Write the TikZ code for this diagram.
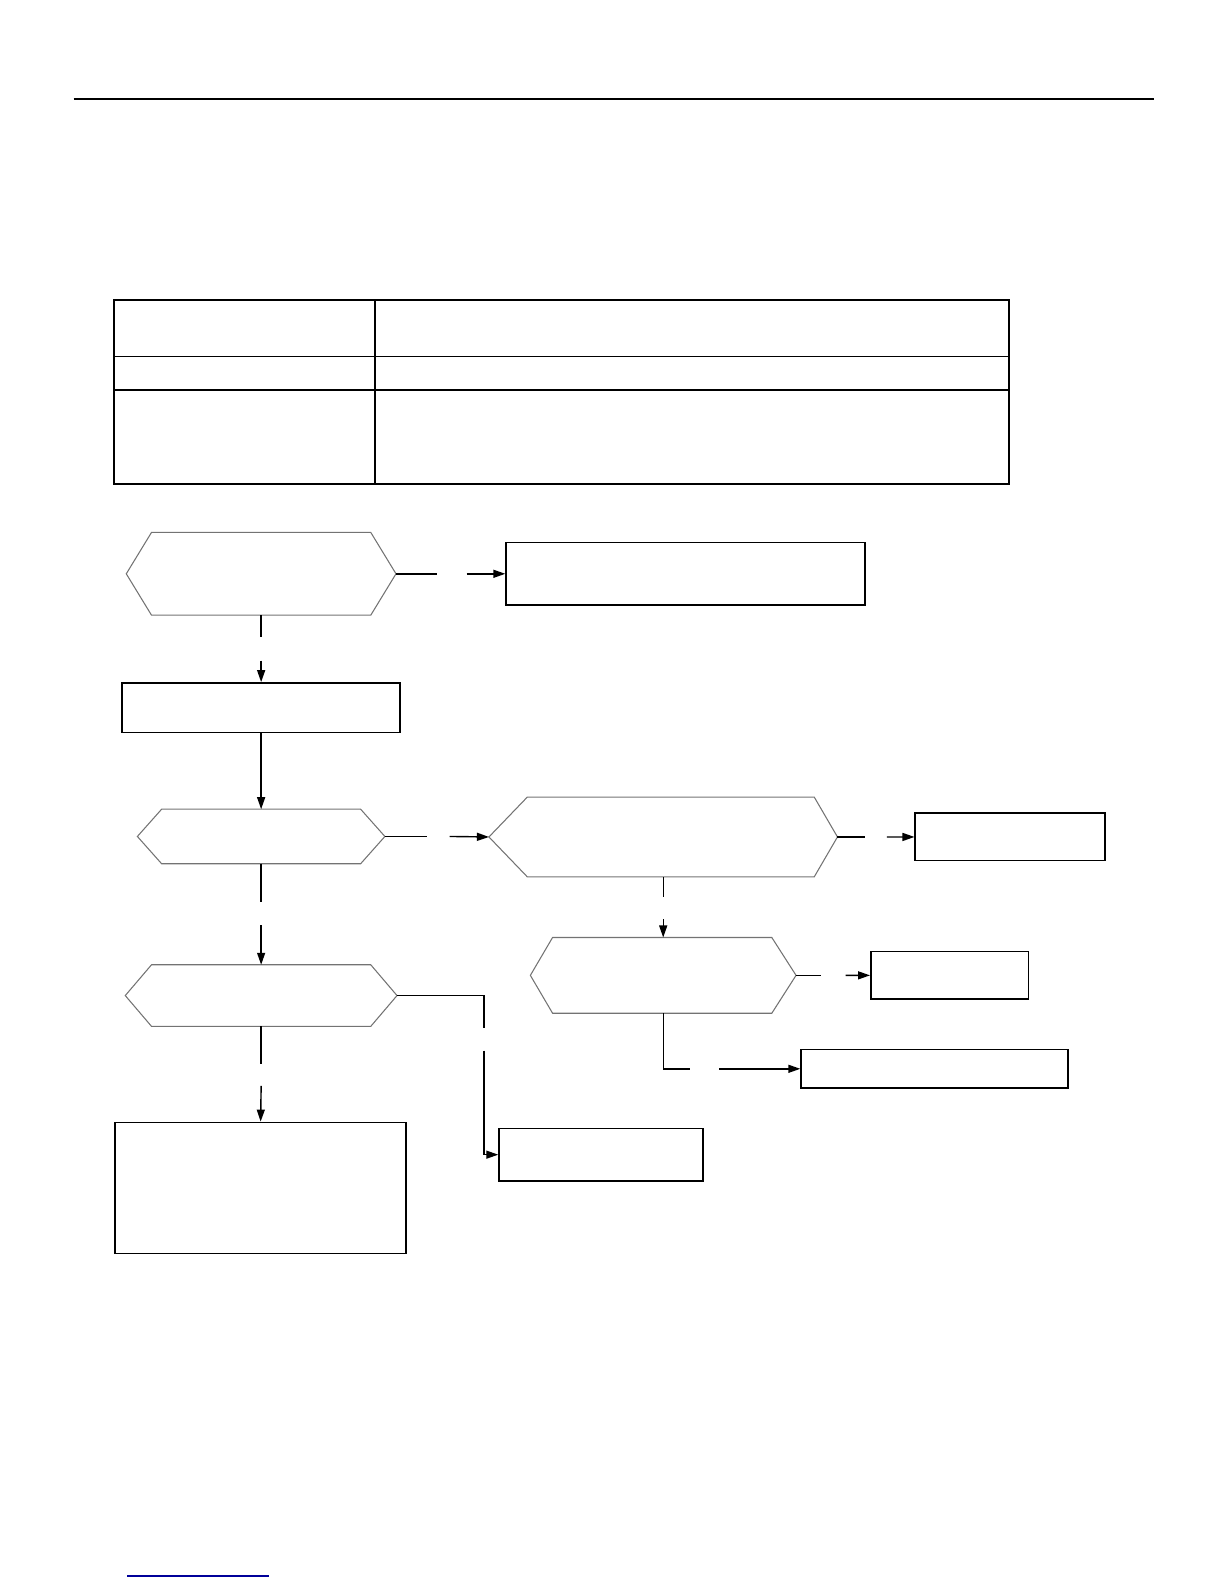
\documentclass[tikz,border=0pt]{standalone}
\usetikzlibrary{arrows.meta,fit}

% шестиугольник: имя, левая вершина, верх слева, верх справа, правая вершина, верх, низ
\newcommand{\hexa}[7]{%
  \coordinate (#1-l) at (#2,{(#6+#7)/2});
  \coordinate (#1-r) at (#5,{(#6+#7)/2});
  \coordinate (#1-t) at ({(#2+#5)/2},#6);
  \coordinate (#1-b) at ({(#2+#5)/2},#7);
  \draw[hexline] (#1-l) -- (#3,#6) -- (#4,#6) -- (#1-r) -- (#4,#7) -- (#3,#7) -- cycle;
}

\begin{document}
\begin{tikzpicture}[
    x=0.0202cm,
    y=-0.0202cm,
    line cap=butt,
    line join=miter,
    frame/.style={draw=black,line width=0.9pt},
    box/.style={draw=black,line width=0.9pt,inner sep=0pt},
    hexline/.style={draw=black!55,line width=0.6pt},
    conn/.style={line width=0.8pt},
    arr/.style={conn,-{Triangle[length=2.4mm,width=1.6mm]}}
]

\useasboundingbox (0,0) rectangle (1212,1568);

% =========================================================
% Линия колонтитула
% =========================================================

\draw[line width=0.9pt] (73,98) -- (1142,98);

% =========================================================
% Таблица
% =========================================================

\draw[frame] (113,297) rectangle (999,479);
\draw[frame] (371,297) -- (371,479);
\draw[frame] (113,353) -- (999,353);
\draw[frame] (113,386) -- (999,386);

% =========================================================
% Прямоугольники
% =========================================================

\node[box,fit={(501,537) (856,599)}] (b1) {};
\node[box,fit={(121,676) (396,725)}] (b2) {};
\node[box,fit={(906,805) (1094,852)}] (b3) {};
\node[box,fit={(862,942) (1018,989)}] (b4) {};
\node[box,fit={(793,1039) (1057,1077)}] (b5) {};
\node[box,fit={(494,1117) (696,1169)}] (b6) {};
\node[box,fit={(114,1111) (402,1241)}] (b7) {};

% =========================================================
% Шестиугольники
% =========================================================

\hexa{h1}{125}{150}{367}{392}{527}{609}
\hexa{h2}{136}{160}{357}{381}{801}{855}
\hexa{h3}{484}{522}{806}{829}{789}{868}
\hexa{h4}{525}{547}{764}{788}{928}{1003}
\hexa{h5}{124}{150}{367}{393}{955}{1016}

% =========================================================
% Концы разрывов на соединениях
% =========================================================

\coordinate (g1a) at (433,568);     \coordinate (g1b) at (462,568);
\coordinate (g2a) at (258.5,631);   \coordinate (g2b) at (258.5,654);
\coordinate (g3a) at (423,828);     \coordinate (g3b) at (445,828);
\coordinate (g4a) at (856,828.5);   \coordinate (g4b) at (878,828.5);
\coordinate (g5a) at (656.5,888);   \coordinate (g5b) at (656.5,910);
\coordinate (g6a) at (813,965.5);   \coordinate (g6b) at (837,965.5);
\coordinate (g7a) at (683,1058);    \coordinate (g7b) at (712,1058);
\coordinate (g8a) at (258.5,893);   \coordinate (g8b) at (258.5,916);
\coordinate (g9a) at (479,1018);    \coordinate (g9b) at (479,1040);
\coordinate (g10a) at (258.5,1053); \coordinate (g10b) at (258.5,1075);

% =========================================================
% Соединения
% =========================================================

\draw[conn] (h1-r) -- (g1a);
\draw[arr] (g1b) -- (b1.west);

\draw[conn] (h1-b) -- (g2a);
\draw[arr] (g2b) -- (b2.north);

\draw[arr] (b2.south) -- (h2-t);

\draw[conn] (h2-r) -- (g3a);
\draw[arr] (g3b) -- (h3-l);

\draw[conn] (h3-r) -- (g4a);
\draw[arr] (g4b) -- (b3.west);

\draw[conn] (h3-b) -- (g5a);
\draw[arr] (g5b) -- (h4-t);

\draw[conn] (h4-r) -- (g6a);
\draw[arr] (g6b) -- (b4.west);

\draw[conn] (h4-b) |- (g7a);
\draw[arr] (g7b) -- (b5.west);

\draw[conn] (h2-b) -- (g8a);
\draw[arr] (g8b) -- (h5-t);

\draw[conn] (h5-r) -| (g9a);
\draw[arr] (g9b) |- (b6.west);

\draw[conn] (h5-b) -- (g10a);
\draw[arr] (g10b) -- (b7.north);

% =========================================================
% Ссылка внизу страницы
% =========================================================

\draw[line width=0.8pt,draw={rgb,255:red,0;green,0;blue,153}] (126,1560) -- (266,1560);

\end{tikzpicture}
\end{document}
